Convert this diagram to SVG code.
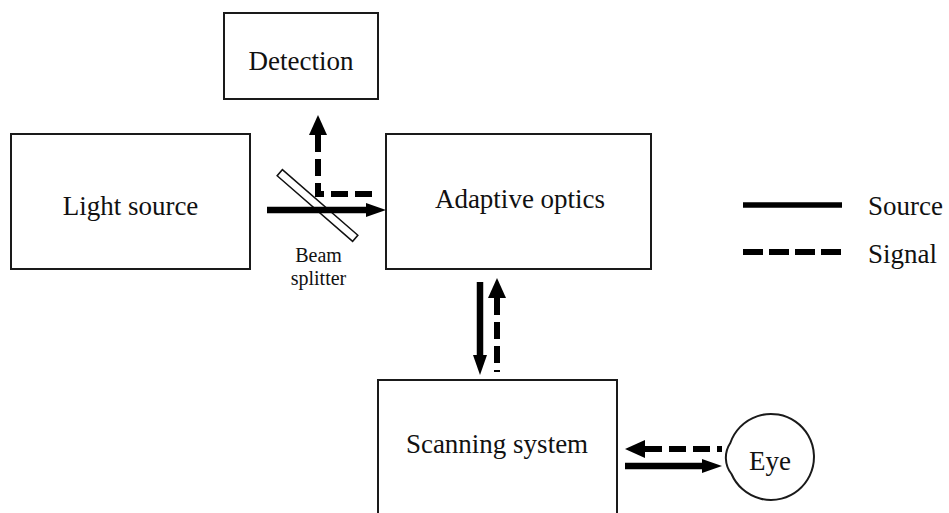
<svg xmlns="http://www.w3.org/2000/svg" width="949" height="513" viewBox="0 0 949 513">
<style>
.box{fill:#fff;stroke:#1a1a1a;stroke-width:2}
.lbl{font-family:"Liberation Serif","Times New Roman",serif;font-size:27px;fill:#111;text-anchor:middle}
.small{font-family:"Liberation Serif","Times New Roman",serif;font-size:20px;fill:#111;text-anchor:middle}
.leg{font-family:"Liberation Serif","Times New Roman",serif;font-size:27px;fill:#111}
.solid{fill:none;stroke:#000;stroke-width:6.5}
.dash{fill:none;stroke:#000;stroke-width:6;stroke-dasharray:17 7}
</style>
<defs>
<marker id="arrowS" markerUnits="userSpaceOnUse" markerWidth="20" markerHeight="14" refX="0" refY="7" orient="auto" viewBox="0 0 20 14">
<path d="M0,0 L20,7 L0,14 Z" fill="#000"/>
</marker>
<marker id="arrowD" markerUnits="userSpaceOnUse" markerWidth="20" markerHeight="18" refX="0" refY="9" orient="auto-start-reverse" viewBox="0 0 20 18">
<path d="M0,0 L20,9 L0,18 Z" fill="#000"/>
</marker>
</defs>
<rect width="949" height="513" fill="#fff"/>

<g id="detection">
<rect class="box" x="224" y="13" width="154" height="86"/>
<text class="lbl" x="301" y="70">Detection</text>
</g>
<g id="light-source">
<rect class="box" x="11" y="134" width="239" height="135"/>
<text class="lbl" x="130.5" y="215">Light source</text>
</g>
<g id="adaptive-optics">
<rect class="box" x="386" y="134" width="265" height="135"/>
<text class="lbl" x="520" y="208">Adaptive optics</text>
</g>
<g id="scanning-system">
<rect class="box" x="378" y="380" width="239" height="150"/>
<text class="lbl" x="497" y="453">Scanning system</text>
</g>
<g id="eye">
<path class="box" d="M730.3,443 A43,43 0 1 1 731.5,474 A26.5,26.5 0 0 1 730.3,443 Z"/>
<text class="lbl" x="770" y="470">Eye</text>
</g>
<g id="beam-splitter">
<rect x="-50" y="-4" width="100" height="8" fill="#fff" stroke="#111" stroke-width="1.5" transform="translate(317.5,205.5) rotate(41)"/>
<text class="small" x="318.5" y="262">Beam</text>
<text class="small" x="318.5" y="285">splitter</text>
</g>

<g id="connectors">
<path class="solid" d="M267,210 L366,210" marker-end="url(#arrowS)"/>
<path class="dash" d="M318,135 L318,194 L378,194" marker-start="url(#arrowD)"/>
<path class="solid" d="M480,282 L480,355" marker-end="url(#arrowS)"/>
<path class="dash" d="M497,298 L497,372" marker-start="url(#arrowD)"/>
<path class="dash" d="M645,449 L722,449" marker-start="url(#arrowD)"/>
<path class="solid" d="M625,466 L702,466" marker-end="url(#arrowS)"/>
</g>

<g id="legend">
<line x1="743" y1="205" x2="842" y2="205" stroke="#000" stroke-width="5.5"/>
<line x1="743" y1="252" x2="842" y2="252" stroke="#000" stroke-width="6" stroke-dasharray="20 6"/>
<text class="leg" x="868" y="215">Source</text>
<text class="leg" x="868" y="263">Signal</text>
</g>
</svg>
